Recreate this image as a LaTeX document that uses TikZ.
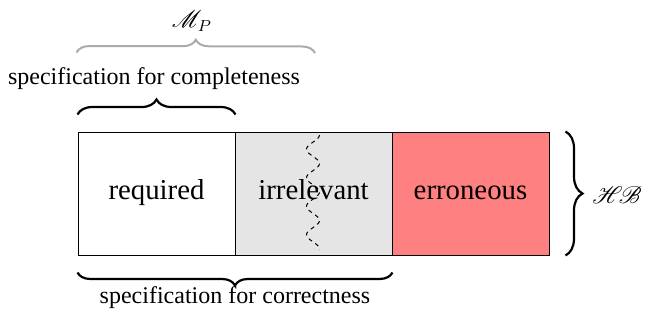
\documentclass[12pt,tikz,border=0pt]{standalone}
\usepackage{fontspec}
\setmainfont{Liberation Serif}
\usepackage{mathrsfs}
\usetikzlibrary{calc,decorations.pathreplacing}
\tikzset{
	part/.style={draw, line width=0.5pt, minimum width=78.5pt, minimum height=61.5pt, inner sep=0pt, text height=1.5ex, text depth=0.5ex, font=\large},
	bigbrace/.style={decorate, decoration={brace, amplitude=#1}, line width=1.1pt},
	bigbrace/.default=7pt,
	greybrace/.style={decorate, decoration={brace, amplitude=6.5pt}, line width=1pt, color=black!33}
}
\begin{document}
\begin{tikzpicture}[x=0.5pt, y=-0.5pt]
	\useasboundingbox (0,0) rectangle (660,322);
	\node[part] at (156.5,193.5) (req) {required};
	\node[part, fill=black!10] at (313.5,193.5) (irr) {irrelevant};
	\node[part, fill=red!50] at (470.5,193.5) (err) {erroneous};
	\node at (192,21) (mp) {$\mathscr{M}_P$};
	\node at (154,79) (compl) {specification for completeness};
	\node at (235,298) (corr) {specification for correctness};
	\node at (617,195) (hb) {$\mathscr{H}\!\mathscr{B}$};
	\coordinate (cut) at (313,135);
	\draw[dashed, dash pattern=on 2pt off 2pt, line width=0.5pt]
	plot[domain=0:115, samples=80, smooth] ({313+6.5*cos(\x*12.632)},{135+\x});
	\draw[bigbrace=7.5pt] ($(req.north west)+(0,-17)$) -- ($(req.north east)+(0,-17)$);
	\draw[greybrace] ($(req.north west)+(-1,-79)$) -- ($(cut)+(2,-82)$);
	\draw[bigbrace=6.5pt] ($(irr.south east)+(0,17)$) -- ($(req.south west)+(0,17)$);
	\draw[bigbrace=8.5pt] ($(err.north east)+(16,0)$) -- ($(err.south east)+(16,0)$);
\end{tikzpicture}
\end{document}
